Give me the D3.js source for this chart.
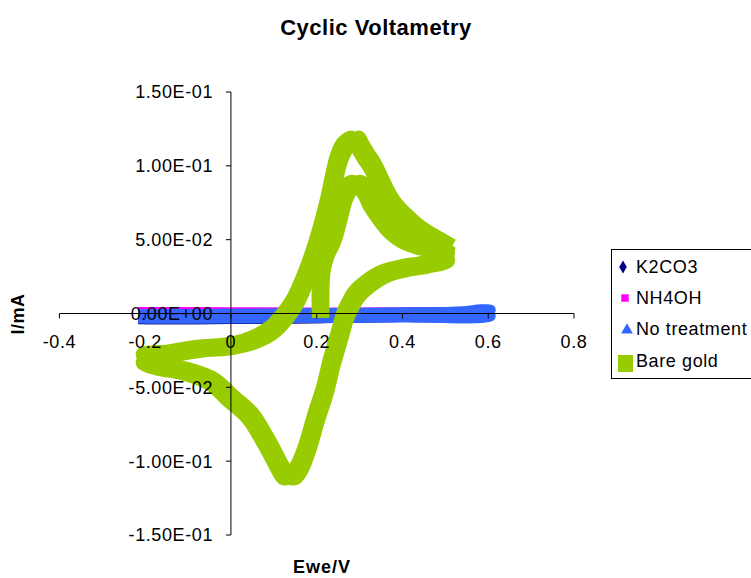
<!DOCTYPE html>
<html>
<head>
<meta charset="utf-8">
<script src="https://cdn.jsdelivr.net/npm/d3@7"></script>
<style>
  html, body { margin: 0; padding: 0; background: #fff; }
  svg { display: block; font-family: "Liberation Sans", Arial, sans-serif; }
</style>
</head>
<body>
<svg id="chart" width="751" height="578"></svg>
<script>
// Series names and colours
const seriesNames = ["K2CO3", "NH4OH", "No treatment", "Bare gold"];
const seriesColors = ["#000080", "#FF00FF", "#3366FF", "#99CC00"];

// Axis ticks
const xTicks = [-0.4, -0.2, 0, 0.2, 0.4, 0.6, 0.8];
const yTicks = [-0.15, -0.1, -0.05, 0, 0.05, 0.1, 0.15];

// K2CO3 scan (E in V, I in mA)
const k2co3E = [-0.2, 0.0, 0.2, 0.4, 0.58];
const k2co3I = [-0.0026, -0.0024, -0.0018, -0.0010, -0.0005];

// NH4OH scan
const nh4ohE = [-0.2, 0.0, 0.2, 0.4, 0.58];
const nh4ohI = [-0.0004, -0.0006, -0.0008, -0.0006, -0.0003];

// Untreated electrode scan
const noTreatE = [-0.2, 0.0, 0.2, 0.4, 0.54, 0.6, 0.6, 0.4, 0.2, 0.0, -0.2];
const noTreatI = [-0.0018, -0.0016, -0.0012, -0.0006, 0.0, 0.0012, -0.0005, -0.0012, -0.0016, -0.0019, -0.0020];

// Bare gold voltammogram, two cycles starting at 0.2 V
const goldE = [
  0.209, 0.209, 0.212, 0.221, 0.237, 0.249, 0.256, 0.265, 0.277, 0.293,
  0.312, 0.328, 0.351, 0.377, 0.405, 0.440, 0.500,
  0.500, 0.451, 0.409, 0.358, 0.319, 0.293, 0.277, 0.267, 0.256, 0.244,
  0.235, 0.219, 0.198, 0.179, 0.160, 0.144, 0.128, 0.114, 0.105, 0.079,
  0.044, -0.002, -0.044, -0.107, -0.165, -0.200,
  -0.200, -0.142, -0.079, -0.002, 0.051, 0.091, 0.107, 0.128, 0.151, 0.174,
  0.193, 0.209, 0.228, 0.242, 0.253, 0.267, 0.291,
  0.300, 0.314, 0.330, 0.347, 0.360, 0.379, 0.405, 0.437, 0.470, 0.500
];
const goldI = [
  0.003, 0.016, 0.031, 0.041, 0.051, 0.063, 0.071, 0.080, 0.086, 0.088,
  0.084, 0.075, 0.065, 0.056, 0.050, 0.046, 0.041,
  0.037, 0.033, 0.031, 0.027, 0.020, 0.013, 0.005, -0.001, -0.012, -0.024,
  -0.033, -0.052, -0.071, -0.090, -0.104, -0.110, -0.110, -0.104, -0.099, -0.085,
  -0.069, -0.057, -0.046, -0.039, -0.036, -0.032,
  -0.029, -0.027, -0.024, -0.022, -0.018, -0.012, -0.008, -0.001, 0.009, 0.024,
  0.039, 0.054, 0.075, 0.094, 0.106, 0.114, 0.118,
  0.114, 0.107, 0.100, 0.090, 0.082, 0.073, 0.065, 0.057, 0.051, 0.046
];

const svg = d3.select("#chart");

const x = d3.scaleLinear().domain([-0.4, 0.8]).range([59.4, 574]);
const y = d3.scaleLinear().domain([-0.15, 0.15]).range([535, 92]);

const zip = (a, b) => a.map((v, i) => [v, b[i]]);
const line = d3.line()
  .x(d => x(d[0]))
  .y(d => y(d[1]))
  .curve(d3.curveCatmullRom.alpha(0.5));

// Each series is drawn as a dense run of square markers: approximated by
// several offset copies of the path so the band has a square-brush profile.
function band(data, color, half, core) {
  const g = svg.append("g");
  const offs = [[-half, -half], [half, -half], [-half, half], [half, half], [0, 0]];
  offs.forEach(([dx, dy]) => {
    g.append("path")
      .attr("d", line(data))
      .attr("transform", `translate(${dx},${dy})`)
      .attr("fill", "none")
      .attr("stroke", color)
      .attr("stroke-width", core)
      .attr("stroke-linecap", "square")
      .attr("stroke-linejoin", "round");
  });
}

band(zip(k2co3E, k2co3I), seriesColors[0], 3, 8);
band(zip(nh4ohE, nh4ohI), seriesColors[1], 3, 8);
band(zip(noTreatE, noTreatI), seriesColors[2], 3, 8);
band(zip(goldE, goldI), seriesColors[3], 4, 9.5);

// Axes crossing at the origin
const fmtY = v => {
  const [m, e] = v.toExponential(2).split("e");
  return m + "E" + e[0] + e.slice(1).padStart(2, "0");
};
const fmtX = v => (v === 0 ? "0" : String(v));

const axisColor = "#000";
const x0 = x(0), y0 = y(0);

// y axis
svg.append("line").attr("x1", x0).attr("x2", x0).attr("y1", y(0.15)).attr("y2", y(-0.15))
  .attr("stroke", axisColor).attr("stroke-width", 1);
yTicks.forEach(t => {
  svg.append("line").attr("x1", x0 - 5).attr("x2", x0).attr("y1", y(t)).attr("y2", y(t))
    .attr("stroke", axisColor);
  svg.append("text").attr("x", 213).attr("y", y(t)).attr("dy", "0.36em")
    .attr("text-anchor", "end").attr("font-size", 18).attr("letter-spacing", 0.6)
    .text(fmtY(t));
});

// x axis
svg.append("line").attr("x1", x(-0.4)).attr("x2", x(0.8)).attr("y1", y0).attr("y2", y0)
  .attr("stroke", axisColor).attr("stroke-width", 1);
xTicks.forEach(t => {
  svg.append("line").attr("x1", x(t)).attr("x2", x(t)).attr("y1", y0).attr("y2", y0 + 5)
    .attr("stroke", axisColor);
  svg.append("text").attr("x", x(t)).attr("y", 348)
    .attr("text-anchor", "middle").attr("font-size", 18).attr("letter-spacing", 0.6)
    .text(fmtX(t));
});

// Titles
svg.append("text").attr("x", 376).attr("y", 35).attr("text-anchor", "middle")
  .attr("font-size", 22).attr("font-weight", "bold").attr("letter-spacing", 0.5)
  .text("Cyclic Voltametry");
svg.append("text").attr("x", 322).attr("y", 573).attr("text-anchor", "middle")
  .attr("font-size", 18).attr("font-weight", "bold").attr("letter-spacing", 1)
  .text("Ewe/V");
svg.append("text").attr("transform", "translate(24,314) rotate(-90)")
  .attr("text-anchor", "middle").attr("font-size", 18).attr("font-weight", "bold")
  .attr("letter-spacing", 0.5)
  .text("I/mA");

// Legend
const lg = svg.append("g");
lg.append("rect").attr("x", 611.5).attr("y", 249.5).attr("width", 160).attr("height", 129)
  .attr("fill", "#fff").attr("stroke", "#000").attr("stroke-width", 1);
const rowsY = [267, 298, 329, 361];
const sym = [d3.symbolDiamond, d3.symbolSquare, d3.symbolTriangle, null];
const symSize = [50, 56, 60, 0];
const symX = [623, 625, 627];
seriesNames.forEach((name, i) => {
  if (sym[i]) {
    lg.append("path").attr("d", d3.symbol().type(sym[i]).size(symSize[i])())
      .attr("transform", `translate(${symX[i]},${rowsY[i] + (i === 2 ? 1 : 0)})`)
      .attr("fill", seriesColors[i]);
  } else {
    lg.append("rect").attr("x", 618).attr("y", rowsY[i] - 6).attr("width", 15).attr("height", 17)
      .attr("fill", seriesColors[i]);
  }
  lg.append("text").attr("x", 636).attr("y", rowsY[i]).attr("dy", "0.36em")
    .attr("font-size", 18).attr("letter-spacing", 0.6).text(name);
});
</script>
</body>
</html>
